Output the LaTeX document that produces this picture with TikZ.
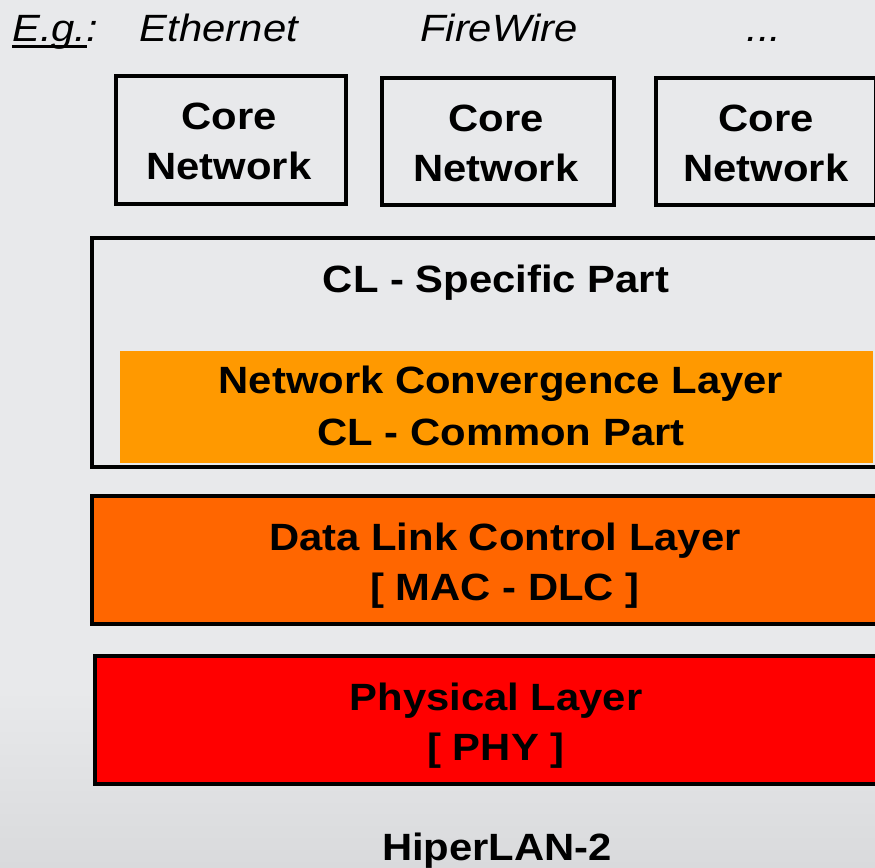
\documentclass[tikz,border=0pt]{standalone}
\usepackage{fontspec}
\setmainfont{Liberation Sans}[FakeStretch=1.1]
\definecolor{bg}{HTML}{E8E9EB}
\definecolor{bgdark}{HTML}{D9DADC}
\definecolor{nclorange}{HTML}{FF9900}
\definecolor{dlcorange}{HTML}{FF6600}
\definecolor{phyred}{HTML}{FF0000}
\begin{document}
\begin{tikzpicture}[x=1pt,y=-1pt,
  lbl/.style={font=\fontsize{38}{51}\selectfont\bfseries, anchor=base, inner sep=0pt},
  ital/.style={font=\fontsize{38}{51}\selectfont\itshape, anchor=base, inner sep=0pt},
  frame/.style={draw=black, line width=3.5pt, inner sep=0pt, anchor=north west},
  slab/.style={inner sep=0pt, anchor=north west},
]
\useasboundingbox (0,0) rectangle (875,867);
\clip (0,0) rectangle (875,867);
% backdrop
\fill[bg] (0,0) rectangle (875,867);
\shade[top color=bg, bottom color=bgdark] (0,690) rectangle (875,867);

% example technologies
\node[ital, anchor=base west] (eg) at (12,42) {E.g.};
\node[ital, anchor=base west] (colon) at (eg.base east) {:};
\draw[line width=3pt] ([yshift=-5pt]eg.base west) -- ([yshift=-5pt]eg.base east);
\node[ital] (eth) at (219,42) {Ethernet};
\node[ital] (fw) at (499,42) {FireWire};
\node[ital] (more) at (764,42) {...};

% core networks
\node[frame, minimum width=230pt, minimum height=128pt] (core1) at (114,74) {};
\node[frame, minimum width=232pt, minimum height=127pt] (core2) at (380,76) {};
\node[frame, minimum width=220pt, minimum height=127pt] (core3) at (654,76) {};
\node[lbl] (core1a) at (229,129) {Core};
\node[lbl] (core1b) at (229,179) {Network};
\node[lbl] (core2a) at (496,131) {Core};
\node[lbl] (core2b) at (496,181) {Network};
\node[lbl] (core3a) at (766,131) {Core};
\node[lbl] (core3b) at (766,181) {Network};

% convergence layer
\node[slab, fill=nclorange, minimum width=753pt, minimum height=112pt] (ncl) at (120,351) {};
\node[frame, minimum width=800pt, minimum height=229pt] (clbox) at (90,236) {};
\node[lbl] (clspec) at (496,292) {CL - Specific Part};
\node[lbl] (ncla) at (501,393) {Network Convergence Layer};
\node[lbl] (nclb) at (501,445) {CL - Common Part};

% data link control layer
\node[frame, fill=dlcorange, minimum width=800pt, minimum height=128pt] (dlc) at (90,494) {};
\node[lbl] (dlca) at (505,550) {Data Link Control Layer};
\node[lbl] (dlcb) at (505,600) {[ MAC - DLC ]};

% physical layer
\node[frame, fill=phyred, minimum width=800pt, minimum height=128pt] (phy) at (93,654) {};
\node[lbl] (phya) at (496,710) {Physical Layer};
\node[lbl] (phyb) at (496,760) {[ PHY ]};

\node[lbl] (title) at (497,860) {HiperLAN-2};
\end{tikzpicture}
\end{document}
